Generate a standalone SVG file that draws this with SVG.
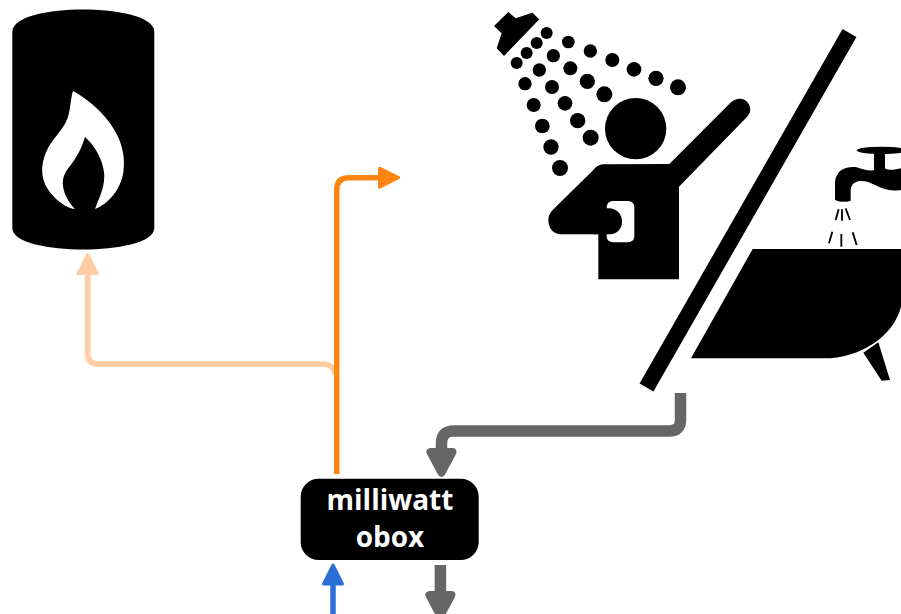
<svg xmlns="http://www.w3.org/2000/svg" width="901" height="614" viewBox="0 0 901 614">
<style>
.ink{fill:#000}
.hole{fill:#fff}
.wire{fill:none;stroke-linecap:butt;stroke-linejoin:round}
.label{font-family:"Open Sans","Noto Sans",sans-serif;font-weight:700;font-size:28px;fill:#fff;text-anchor:middle}
</style>
<defs>
<marker id="hOrange" markerUnits="userSpaceOnUse" markerWidth="30" markerHeight="30" refX="0" refY="0" orient="auto" overflow="visible"><polygon points="0,-9.5 19,0 0,9.5" fill="#ff8512" stroke="#ff8512" stroke-width="3" stroke-linejoin="round"/></marker>
<marker id="hPeach" markerUnits="userSpaceOnUse" markerWidth="30" markerHeight="30" refX="0" refY="0" orient="auto" overflow="visible"><polygon points="0,-9.5 19,0 0,9.5" fill="#ffcda1" stroke="#ffcda1" stroke-width="3" stroke-linejoin="round"/></marker>
<marker id="hBlue" markerUnits="userSpaceOnUse" markerWidth="30" markerHeight="30" refX="0" refY="0" orient="auto" overflow="visible"><polygon points="0,-9.5 19,0 0,9.5" fill="#2b6fd6" stroke="#2b6fd6" stroke-width="3" stroke-linejoin="round"/></marker>
<marker id="hGray" markerUnits="userSpaceOnUse" markerWidth="40" markerHeight="40" refX="0" refY="0" orient="auto" overflow="visible"><polygon points="0,-11 20.700,0 0,11" fill="#666" stroke="#666" stroke-width="8" stroke-linejoin="round"/></marker>
</defs>
<g id="connectors">
<path class="wire" stroke="#ffcda1" stroke-width="5.5" marker-end="url(#hPeach)" d="M335 374Q333 364 323 364H98Q87.7 364 87.7 354V273.5"/>
<path class="wire" stroke="#ff8512" stroke-width="5.5" marker-end="url(#hOrange)" d="M336.7 474V190Q336.7 177.7 349 177.7H379.5"/>
<path class="wire" stroke="#666" stroke-width="11.5" marker-end="url(#hGray)" d="M680.500 393V420Q680.500 431 669 431H454Q441.500 431 441.500 443V452"/>
<path class="wire" stroke="#666" stroke-width="11.5" marker-end="url(#hGray)" d="M440.4 565V595"/>
<path class="wire" stroke="#2b6fd6" stroke-width="5.5" marker-end="url(#hBlue)" d="M333 614V584"/>
</g>
<g id="tank">
<path class="ink" d="M12.300 32C12.300 16 50 9.500 83 9.500S154.300 16 154.300 32V228C154.300 243 116 249.500 83 249.500S12.300 243 12.300 228Z"/>
<path class="hole" d="M73 91C84 97 104 111 115 131C123 145 125 158 123.500 171C121 190 108 204 95 209L98 201C103 190 105 180 104 172C102 157 93 144 85 137C82 148 76 158 70 166C65 172 62 178 63 186C64 195 70 204 75 209C65 208 51 197 45 184C40 172 42 160 48 148C55 135 66 128 69 113C71 103 71 97 73 91Z"/>
</g>
<g id="shower" transform="translate(480 0) scale(.33333)">
<polygon class="ink" points="42,78 85,36 107,55 157,38 178,58 72,168 50,145 65,100"/>
<g class="ink">
<circle cx="200" cy="99" r="18"/><circle cx="265" cy="126" r="19"/><circle cx="331" cy="153" r="20"/><circle cx="397" cy="180" r="21"/><circle cx="462" cy="208" r="22"/><circle cx="528" cy="235" r="23"/><circle cx="594" cy="262" r="24"/>
<circle cx="170" cy="129" r="18"/><circle cx="220" cy="167" r="20"/><circle cx="271" cy="205" r="21"/><circle cx="322" cy="244" r="23"/><circle cx="373" cy="283" r="24"/>
<circle cx="140" cy="159" r="18"/><circle cx="178" cy="210" r="20"/><circle cx="216" cy="261" r="21"/><circle cx="255" cy="310" r="22"/><circle cx="293" cy="362" r="23"/><circle cx="332" cy="413" r="24"/>
<circle cx="110" cy="189" r="18"/><circle cx="135" cy="251" r="20"/><circle cx="161" cy="315" r="21"/><circle cx="187" cy="378" r="22"/><circle cx="213" cy="441" r="23"/><circle cx="240" cy="504" r="24"/>
</g>
</g>
<g id="person" transform="translate(480 0) scale(.33333)">
<circle class="ink" cx="467" cy="386" r="92"/>
<path class="ink" d="M568 492L750 310C768 290 795 292 806 312C815 328 810 342 800 352L597 560V838H355V703H245C225 703 205 690 205 660C205 648 210 638 218 630L340 510C350 498 360 493 375 493Z"/>
<rect class="hole" x="380" y="603" width="83" height="124" rx="18"/>
<path class="ink" d="M340 625H385C410 625 426 642 426 665C426 688 410 703 385 703H340Z"/>
</g>
<g id="divider">
<line x1="849.500" y1="33" x2="646.500" y2="387.500" stroke="#000" stroke-width="16"/>
</g>
<g id="bath" transform="translate(680 130) scale(.33333)">
<path class="ink" d="M218 357H663V530C640 620 540 685 430 685H33Z"/>
<polygon class="ink" points="595,637 630,750 605,752 550,668"/>
</g>
<g id="faucet" transform="translate(820 140) scale(.33333)">
<ellipse class="ink" cx="185" cy="31" rx="75" ry="11"/>
<path class="ink" d="M45 180V125C50 85 85 78 110 82C130 88 150 95 162 90V40H195V85C205 92 225 90 243 85V150C220 155 195 150 165 135C135 118 95 115 92 150V182Q68 190 45 180Z"/>
<g stroke="#000" stroke-width="5.500" fill="none">
<line x1="47" y1="240" x2="56" y2="208"/><line x1="66" y1="242" x2="66" y2="208"/><line x1="90" y1="240" x2="77" y2="205"/>
<line x1="27" y1="310" x2="37" y2="275"/><line x1="64" y1="320" x2="64" y2="282"/><line x1="110" y1="315" x2="98" y2="277"/>
</g>
</g>
<g id="obox">
<rect class="ink" x="300.700" y="478.700" width="178" height="81.300" rx="18"/>
<text class="label" x="390" y="510">milliwatt</text>
<text class="label" x="390" y="547">obox</text>
</g>
</svg>
